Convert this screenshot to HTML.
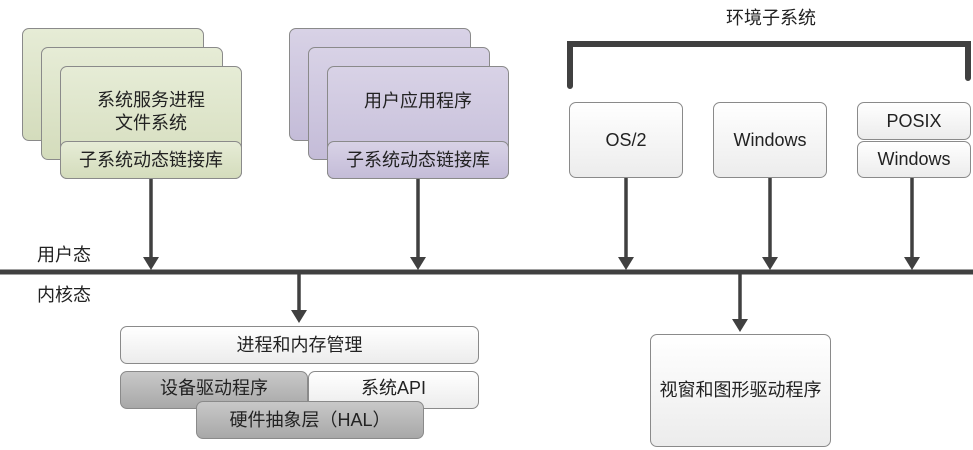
<!DOCTYPE html>
<html><head><meta charset="utf-8"><style>
body{margin:0;width:973px;height:450px;background:#fff;position:relative;overflow:hidden;font-family:"Liberation Sans","Noto Sans CJK SC",sans-serif;color:#222}
.b{position:absolute;box-sizing:border-box;border:1px solid #8a8a8a;border-radius:7px;display:flex;align-items:center;justify-content:center;text-align:center;font-size:18px;line-height:23px}
.g{background:linear-gradient(#e6ecd6,#d4dcbc)}
.p{background:linear-gradient(#d8d2e6,#c4bcd8)}
.w{background:linear-gradient(#ffffff,#ececec)}
.d{background:linear-gradient(#c8c8c8,#a8a8a8)}
.t{position:absolute;font-size:18px}
</style></head><body>
<div class="b g" style="left:22px;top:28px;width:182px;height:113px"></div>
<div class="b g" style="left:41px;top:47px;width:182px;height:113px"></div>
<div class="b g" style="left:60px;top:66px;width:182px;height:113px;align-items:flex-start;padding-top:22px">系统服务进程<br>文件系统</div>
<div class="b g" style="left:60px;top:141px;width:182px;height:38px">子系统动态链接库</div>

<div class="b p" style="left:289px;top:28px;width:182px;height:113px"></div>
<div class="b p" style="left:308px;top:47px;width:182px;height:113px"></div>
<div class="b p" style="left:327px;top:66px;width:182px;height:113px;align-items:flex-start;padding-top:23px">用户应用程序</div>
<div class="b p" style="left:327px;top:141px;width:182px;height:38px">子系统动态链接库</div>

<div class="t" style="left:726px;top:4px">环境子系统</div>
<div class="b w" style="left:569px;top:102px;width:114px;height:76px">OS/2</div>
<div class="b w" style="left:713px;top:102px;width:114px;height:76px">Windows</div>
<div class="b w" style="left:857px;top:102px;width:114px;height:38px">POSIX</div>
<div class="b w" style="left:857px;top:141px;width:114px;height:37px">Windows</div>

<div class="t" style="left:37px;top:241px">用户态</div>
<div class="t" style="left:37px;top:281px">内核态</div>

<div class="b w" style="left:120px;top:326px;width:359px;height:38px">进程和内存管理</div>
<div class="b d" style="left:120px;top:371px;width:188px;height:38px;padding-bottom:4px">设备驱动程序</div>
<div class="b w" style="left:308px;top:371px;width:171px;height:38px;padding-bottom:4px">系统API</div>
<div class="b d" style="left:196px;top:401px;width:228px;height:38px">硬件抽象层（HAL）</div>
<div class="b w" style="left:650px;top:334px;width:181px;height:113px">视窗和图形驱动程序</div>

<svg width="973" height="450" style="position:absolute;left:0;top:0">
<g fill="none" stroke="#404040" stroke-linecap="round">
<path d="M570 86 V44 H968 V78" stroke-width="6"/>
<line x1="0" y1="272" x2="973" y2="272" stroke-width="5" stroke-linecap="butt"/>
<g stroke-width="3.5" stroke-linecap="butt">
<line x1="151" y1="179" x2="151" y2="262"/><line x1="418" y1="179" x2="418" y2="262"/>
<line x1="626" y1="178" x2="626" y2="262"/><line x1="770" y1="178" x2="770" y2="262"/>
<line x1="912" y1="178" x2="912" y2="262"/>
<line x1="299" y1="274" x2="299" y2="313"/><line x1="740" y1="274" x2="740" y2="322"/>
</g></g>
<g fill="#404040">
<path d="M143 257 H159 L151 270Z"/><path d="M410 257 H426 L418 270Z"/>
<path d="M618 257 H634 L626 270Z"/><path d="M762 257 H778 L770 270Z"/>
<path d="M904 257 H920 L912 270Z"/>
<path d="M291 310 H307 L299 323Z"/><path d="M732 319 H748 L740 332Z"/>
</g></svg>
</body></html>
